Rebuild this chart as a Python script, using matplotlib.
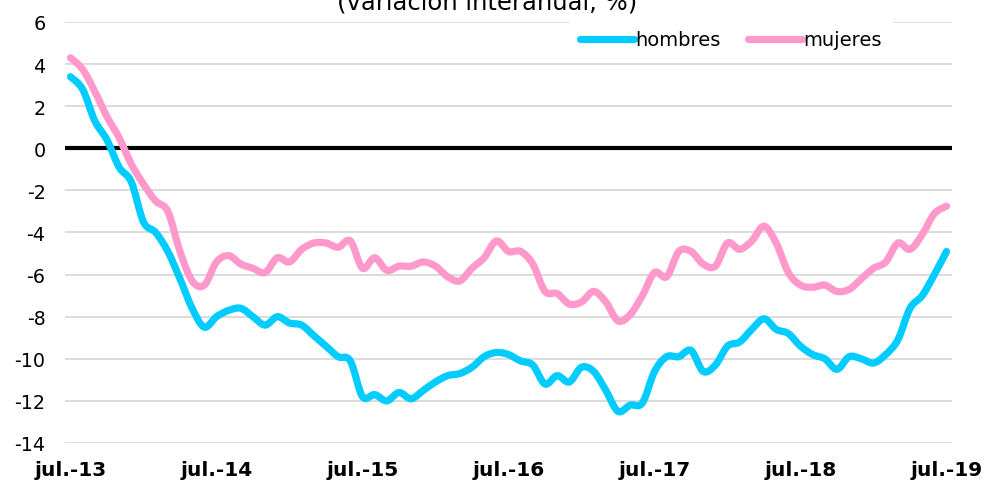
import numpy as np
import matplotlib
matplotlib.use("Agg")
from matplotlib import pyplot as plt
from matplotlib.path import Path
from matplotlib.patches import PathPatch
from matplotlib.lines import Line2D

plt.rcParams["axes.unicode_minus"] = False

# meses desde jul.-13 hasta jul.-19
meses = np.arange(73)
etiquetas = ["jul.-13", "jul.-14", "jul.-15", "jul.-16", "jul.-17", "jul.-18", "jul.-19"]

hombres = [3.4, 2.8, 1.3, 0.4, -0.9, -1.6, -3.5, -4.0, -4.9, -6.2, -7.6, -8.5,
           -8.0, -7.7, -7.6, -8.0, -8.4, -8.0, -8.3, -8.4, -8.9, -9.4, -9.9, -10.1,
           -11.8, -11.7, -12.0, -11.6, -11.9, -11.5, -11.1, -10.8, -10.7, -10.4, -9.9, -9.7,
           -9.8, -10.1, -10.3, -11.2, -10.8, -11.1, -10.4, -10.6, -11.5, -12.5, -12.2, -12.1,
           -10.6, -9.9, -9.9, -9.6, -10.6, -10.3, -9.4, -9.2, -8.6, -8.1, -8.6, -8.8,
           -9.4, -9.8, -10.0, -10.5, -9.9, -10.0, -10.2, -9.8, -9.1, -7.6, -7.0, -6.0,
           -4.9]
mujeres = [4.3, 3.75, 2.7, 1.5, 0.5, -0.75, -1.7, -2.5, -3.0, -4.9, -6.3, -6.5,
           -5.4, -5.1, -5.5, -5.7, -5.9, -5.2, -5.4, -4.8, -4.5, -4.5, -4.7, -4.4,
           -5.7, -5.2, -5.8, -5.6, -5.6, -5.4, -5.6, -6.1, -6.3, -5.7, -5.2, -4.4,
           -4.9, -4.9, -5.5, -6.8, -6.9, -7.4, -7.3, -6.8, -7.3, -8.2, -7.9, -7.0,
           -5.9, -6.1, -4.9, -4.9, -5.5, -5.6, -4.5, -4.8, -4.4, -3.7, -4.5, -5.9,
           -6.5, -6.6, -6.5, -6.8, -6.7, -6.2, -5.7, -5.4, -4.5, -4.8, -4.1, -3.1,
           -2.75]

COL_H = "#00CCFF"
COL_M = "#FF99CC"


# linea suavizada (estilo Excel) con curvas de Bezier entre los puntos
def curva_suave(x, y):
    p = np.column_stack([x, y]).astype(float)
    ext = np.vstack([p[0], p, p[-1]])
    verts = [p[0]]
    codes = [Path.MOVETO]
    for i in range(len(p) - 1):
        p0, p1, p2, p3 = ext[i], ext[i + 1], ext[i + 2], ext[i + 3]
        verts += [p1 + (p2 - p0) / 6, p2 - (p3 - p1) / 6, p2]
        codes += [Path.CURVE4] * 3
    return Path(verts, codes)


W, H = 986, 481
fig = plt.figure(figsize=(W / 100, H / 100), dpi=100)
ax = fig.add_axes([65 / W, 1 - 444 / H, (952 - 65) / W, (444 - 23) / H])

ax.set_ylim(-14, 6)
ax.set_xlim(-0.45, 72.45)
ax.set_yticks(range(-14, 7, 2))
ax.set_xticks(range(0, 73, 12))
ax.set_xticklabels(etiquetas, fontweight="bold")
ax.tick_params(axis="y", length=0, pad=14, labelsize=13.8)
ax.tick_params(axis="x", length=0, pad=12, labelsize=14.5)
for s in ax.spines.values():
    s.set_visible(False)
ax.grid(axis="y", color="#D9D9D9", linewidth=1.3, zorder=0)
ax.set_axisbelow(True)
ax.axhline(0, color="black", linewidth=3, zorder=2)

for serie, col in [(hombres, COL_H), (mujeres, COL_M)]:
    ax.add_patch(PathPatch(curva_suave(meses, serie), fill=False, edgecolor=col,
                           linewidth=5.2, joinstyle="round", capstyle="round",
                           zorder=3))

handles = [Line2D([], [], color=COL_H, linewidth=5.2, solid_capstyle="round"),
           Line2D([], [], color=COL_M, linewidth=5.2, solid_capstyle="round")]
leg = fig.legend(handles, ["hombres", "mujeres"], loc="center",
                 bbox_to_anchor=(731 / W, 1 - 41 / H), ncol=2,
                 fontsize=14, handlelength=2.75, handletextpad=0.1,
                 columnspacing=1.4, frameon=True, fancybox=False,
                 borderpad=0.5, borderaxespad=0)
leg.get_frame().set_facecolor("white")
leg.get_frame().set_edgecolor("white")
leg.get_frame().set_alpha(1)

fig.text(487 / W, 1 - 10 / H, "(variación interanual, %)", ha="center",
         va="baseline", fontsize=17.5)

fig.savefig("out.png", dpi=100)
